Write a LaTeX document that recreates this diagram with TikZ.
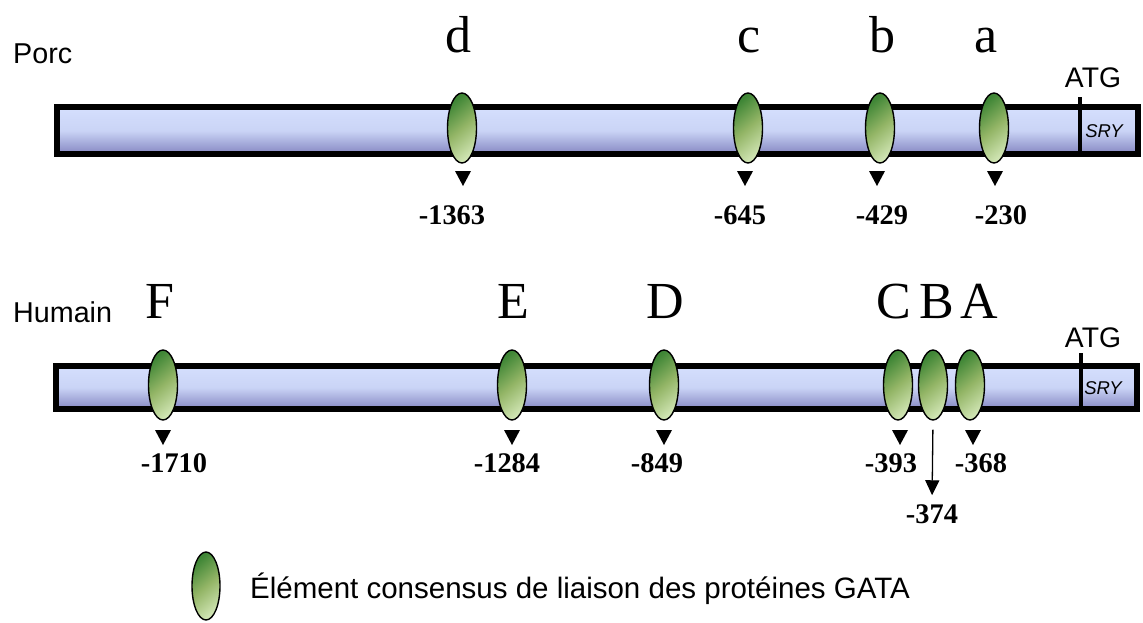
\documentclass[tikz,border=0pt]{standalone}
\usepackage{fontspec}
\setmainfont{Liberation Sans}
\newfontfamily\serf{Liberation Serif}
\usetikzlibrary{shapes.geometric,arrows.meta}
\definecolor{barlight}{HTML}{D5DFFD}
\definecolor{barmid}{HTML}{CAD4F6}
\definecolor{bardark}{HTML}{8587C2}
\definecolor{gdark}{HTML}{3F8636}
\definecolor{gmid}{HTML}{93B566}
\definecolor{glight}{HTML}{CFE4B2}
\tikzset{
  genebar/.style={draw=black, line width=6pt, top color=barlight, bottom color=bardark, middle color=barmid},
  gata/.style={ellipse, draw=black, line width=1.4pt, minimum width=29pt, minimum height=70pt, inner sep=0pt,
    top color=gdark, bottom color=glight, middle color=gmid, shading angle=40},
  atgline/.style={line width=4.5pt, draw=black},
  species/.style={font=\fontsize{28.7}{28.7}\selectfont, anchor=base west, inner sep=0pt},
  atgtext/.style={font=\fontsize{28.3}{28.3}\selectfont, anchor=base, inner sep=0pt},
  srytext/.style={font=\itshape\fontsize{18.5}{18.5}\selectfont, anchor=base, inner sep=0pt},
  siteletter/.style={font=\serf\fontsize{52}{52}\selectfont, anchor=base, inner sep=0pt},
  poslabel/.style={font=\serf\bfseries\fontsize{28.4}{28.4}\selectfont, inner sep=0pt},
  marker/.style={fill=black},
  longarrow/.style={line width=1.3pt, -{Triangle[width=14pt,length=15pt]}},
  legendtext/.style={font=\fontsize{29.5}{29.5}\selectfont, anchor=base west, inner sep=0pt}
}
\newcommand\downtri[1]{\fill[marker] (#1) ++(-8,0) -- ++(16,0) -- ++(-8,15) -- cycle;}
\begin{document}
\begin{tikzpicture}[x=1pt,y=-1pt]
\useasboundingbox (0,0) rectangle (1143,622);

% ---------- Porc ----------
\node[species] (porc) at (13,63) {Porc};
\draw[genebar] (57,107) rectangle (1138,154);
\coordinate (patgtop) at (1080,97);
\coordinate (patgbot) at (1080,157);
\draw[atgline] (patgtop) -- (patgbot);
\node[atgtext] (patg) at (1093,87) {ATG};
\node[srytext] (psry) at (1104,137) {SRY};

\node[gata] (pd) at (462,128) {};
\node[gata] (pc) at (748,128) {};
\node[gata] (pb) at (880,128) {};
\node[gata] (pa) at (994,128) {};

\node[siteletter] (ld) at (458,52) {d};
\node[siteletter] (lc) at (749,52) {c};
\node[siteletter] (lb) at (882,52) {b};
\node[siteletter] (la) at (986,52) {a};

\coordinate (tpd) at (463,171);
\coordinate (tpc) at (745,171);
\coordinate (tpb) at (877,171);
\coordinate (tpa) at (995,171);
\downtri{tpd}\downtri{tpc}\downtri{tpb}\downtri{tpa}

\node[poslabel] (n1363) at (452,215) {-1363};
\node[poslabel] (n645) at (740,215) {-645};
\node[poslabel] (n429) at (882,215) {-429};
\node[poslabel] (n230) at (1001,215) {-230};

% ---------- Humain ----------
\node[species] (hum) at (13,322) {Humain};
\draw[genebar] (56,366) rectangle (1137,409);
\coordinate (hatgtop) at (1081,353);
\coordinate (hatgbot) at (1081,412);
\draw[atgline] (hatgtop) -- (hatgbot);
\node[atgtext] (hatg) at (1093,347) {ATG};
\node[srytext] (hsry) at (1103,394) {SRY};

\node[gata] (hF) at (163,385) {};
\node[gata] (hE) at (512,385) {};
\node[gata] (hD) at (664,385) {};
\node[gata] (hC) at (898,385) {};
\node[gata] (hB) at (933,385) {};
\node[gata] (hA) at (970,385) {};

\node[siteletter] (lF) at (160,318) {F};
\node[siteletter] (lE) at (513,318) {E};
\node[siteletter] (lD) at (665,318) {D};
\node[siteletter] (lC) at (894,318) {C};
\node[siteletter] (lB) at (937,318) {B};
\node[siteletter] (lA) at (979,318) {A};

\coordinate (thF) at (163,430);
\coordinate (thE) at (512,430);
\coordinate (thD) at (664,430);
\coordinate (thC) at (900,430);
\coordinate (thA) at (973,430);
\downtri{thF}\downtri{thE}\downtri{thD}\downtri{thC}\downtri{thA}

\node[poslabel] (n1710) at (174,463) {-1710};
\node[poslabel] (n1284) at (507,463) {-1284};
\node[poslabel] (n849) at (657,463) {-849};
\node[poslabel] (n393) at (891,463) {-393};
\node[poslabel] (n368) at (981,463) {-368};
\node[poslabel] (n374) at (932,514) {-374};
\draw[longarrow, shorten <=9pt, shorten >=9pt] (hB.south) -- (n374.north);

% ---------- Legend ----------
\node[gata, minimum height=68pt, minimum width=28pt] (leg) at (206,586) {};
\node[legendtext] (legt) at (250,598) {Élément consensus de liaison des protéines GATA};
\end{tikzpicture}
\end{document}
